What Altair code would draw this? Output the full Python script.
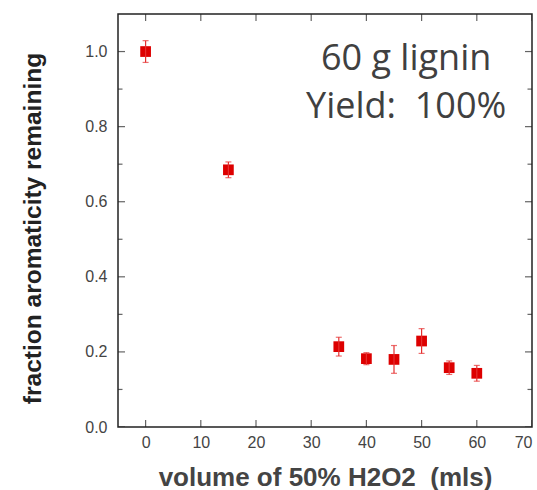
import altair as alt
import pandas as pd

# data
volume = [0, 15, 35, 40, 45, 50, 55, 60]
fraction = [1.0, 0.685, 0.214, 0.182, 0.18, 0.229, 0.158, 0.143]
error = [0.029, 0.021, 0.025, 0.016, 0.037, 0.033, 0.018, 0.021]

x_ticks = [0, 10, 20, 30, 40, 50, 60, 70]
y_major = [0.0, 0.2, 0.4, 0.6, 0.8, 1.0]
y_minor = [0.1, 0.3, 0.5, 0.7, 0.9]

ann_text = ["60 g lignin", "Yield:\u00a0 100%"]
ann_x = [47.2, 47.2]
ann_y = [0.981, 0.853]

df = pd.DataFrame({"vol": volume, "frac": fraction, "err": error})
df_xt = pd.DataFrame({"v": x_ticks})
df_ymaj = pd.DataFrame({"v": y_major})
df_ymin = pd.DataFrame({"v": y_minor})
df_ann = pd.DataFrame({"t": ann_text, "x": ann_x, "y": ann_y})

W, H = 414, 413
xs = alt.Scale(domain=[-5, 70], nice=False, zero=False)
ys = alt.Scale(domain=[0, 1.1], nice=False, zero=False)
RED = "#dd0000"
AX = "#222222"
LBL = "#444444"

x_axis = alt.Axis(
    values=x_ticks, title="volume of 50% H2O2\u00a0 (mls)", ticks=False, domain=False, grid=False,
    labelFontSize=16, labelColor=LBL, labelFont="Liberation Sans", labelPadding=7,
    titleFontSize=26, titleFont="Liberation Sans", titleFontWeight="bold", titleColor="#444444",
    titleY=50, titleBaseline="middle")
y_axis = alt.Axis(
    values=y_major, format=".1f", title="fraction aromaticity remaining", ticks=False, domain=False,
    grid=False, labelFontSize=16, labelColor=LBL, labelFont="Liberation Sans", labelPadding=11,
    titleFontSize=24.5, titleFont="Liberation Sans", titleFontWeight="bold", titleColor="#222222",
    titleX=-85, titleY=214, titleAngle=-90, titleAlign="center", titleBaseline="middle")

pts = alt.Chart(df).mark_square(size=115, color=RED, opacity=1).encode(
    x=alt.X("vol:Q", scale=xs, axis=x_axis),
    y=alt.Y("frac:Q", scale=ys, axis=y_axis),
)

base_err = alt.Chart(df).transform_calculate(lo="datum.frac - datum.err", hi="datum.frac + datum.err")
rules = base_err.mark_rule(color="#e53030", strokeWidth=1.2).encode(
    x=alt.X("vol:Q", scale=xs, axis=x_axis),
    y=alt.Y("lo:Q", scale=ys, axis=y_axis),
    y2="hi:Q",
)
cap_hi = base_err.mark_tick(color="#e53030", orient="horizontal", size=6, thickness=1.2).encode(
    x=alt.X("vol:Q", scale=xs, axis=x_axis), y=alt.Y("hi:Q", scale=ys, axis=y_axis))
cap_lo = base_err.mark_tick(color="#e53030", orient="horizontal", size=6, thickness=1.2).encode(
    x=alt.X("vol:Q", scale=xs, axis=x_axis), y=alt.Y("lo:Q", scale=ys, axis=y_axis))

def xticks(ypos):
    return alt.Chart(df_xt).mark_tick(orient="vertical", size=14, thickness=1.2, color=AX, clip=True).encode(
        x=alt.X("v:Q", scale=xs, axis=x_axis), y=alt.value(ypos))

def yticks(d, xpos, size):
    return alt.Chart(d).mark_tick(orient="horizontal", size=size, thickness=1.2, color=AX, clip=True).encode(
        y=alt.Y("v:Q", scale=ys, axis=y_axis), x=alt.value(xpos))

ann = alt.Chart(df_ann).mark_text(font="Open Sans", fontSize=36, color="#404040", align="center",
                                  baseline="middle").encode(
    x=alt.X("x:Q", scale=xs, axis=x_axis), y=alt.Y("y:Q", scale=ys, axis=y_axis), text="t:N")

chart = alt.layer(
    pts, rules, cap_hi, cap_lo,
    xticks(H), xticks(0),
    yticks(df_ymaj, 0, 14), yticks(df_ymin, 0, 9),
    yticks(df_ymaj, W, 14), yticks(df_ymin, W, 9),
    ann,
).properties(
    width=W, height=H,
    autosize=alt.AutoSizeParams(type="none"),
    padding={"left": 118, "top": 14, "right": 5, "bottom": 63},
    background="white",
).configure_view(stroke=AX, strokeWidth=1.5)

chart.save("out.html", embed_options={"renderer": "svg", "actions": False})
